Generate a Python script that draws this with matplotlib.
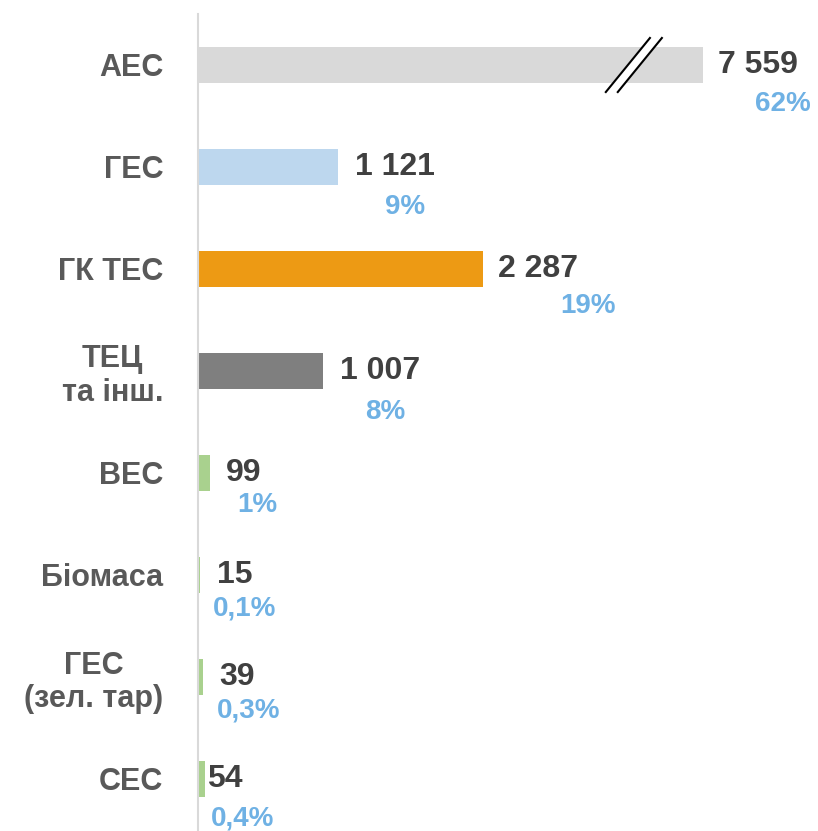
import matplotlib
matplotlib.use("Agg")
import matplotlib.pyplot as plt

# ------------------------------
# Data (installed capacity, MW)
# ------------------------------
categories = ["АЕС", "ГЕС", "ГК ТЕС", "ТЕЦ\nта інш.", "ВЕС", "Біомаса", "ГЕС\n(зел. тар)", "СЕС"]
values = [7559, 1121, 2287, 1007, 99, 15, 39, 54]
shares = ["62%", "9%", "19%", "8%", "1%", "0,1%", "0,3%", "0,4%"]
colors = ["#D9D9D9", "#BDD7EE", "#ED9A14", "#7F7F7F", "#A9D18E", "#A9D18E", "#A9D18E", "#A9D18E"]

# axis break: longest bar is cut at this length
break_at = 4050

# label nudges in pixels (value label dx, share label dx / dy)
val_dx = [15, 17, 15, 17, 16, 17, 16, 2]
pct_dx = [52, 47, 77, 42, 27, 13, 14, 6]
pct_dy = [-39, -40, -37, -41, -32, -33, -33, -40]

plt.rcParams['font.family'] = ['Liberation Sans', 'DejaVu Sans']

fig = plt.figure(figsize=(8.18, 8.31), dpi=100)
ax = fig.add_axes([198 / 818, 1 / 831, 620 / 818, 816 / 831])

y = list(range(len(categories)))
shown = [min(v, break_at) for v in values]
ax.barh(y, shown, height=0.35, color=colors, zorder=2)

ax.set_ylim(len(categories) - 0.5, -0.5)
ax.set_xlim(0, 620 / 0.1246)

# value + share labels
for i, v in enumerate(values):
    txt = f"{v:,}".replace(",", " ")
    ax.annotate(txt, (shown[i], i), xytext=(val_dx[i], 0), textcoords="offset pixels",
                ha="left", va="center", fontsize=23, fontweight="bold",
                color="#404040", annotation_clip=False)
    ax.annotate(shares[i], (shown[i], i), xytext=(pct_dx[i], pct_dy[i]),
                textcoords="offset pixels", ha="left", va="center", fontsize=20,
                fontweight="bold", color="#6FB1E4", annotation_clip=False)

# break marks on the long bar
bx = break_at - 600
hw, hh, gap = 177, 0.265, 96
ax.fill([bx - hw, bx + hw, bx + hw + gap, bx - hw + gap],
        [hh, -hh, -hh, hh], color="white", zorder=3)
ax.plot([bx - hw, bx + hw], [hh, -hh], color="black", lw=1.5, zorder=4)
ax.plot([bx - hw + gap, bx + hw + gap], [hh, -hh], color="black", lw=1.5, zorder=4)

# category labels
ax.set_yticks(y)
ax.set_yticklabels(categories, fontsize=22, fontweight="bold", color="#595959",
                   multialignment="center", linespacing=1.15)
ax.tick_params(axis="y", length=0, pad=25)
ax.set_xticks([])

for s in ["top", "right", "bottom"]:
    ax.spines[s].set_visible(False)
ax.spines["left"].set_color("#D9D9D9")
ax.spines["left"].set_linewidth(1.5)

fig.savefig("out.png", dpi=100)
